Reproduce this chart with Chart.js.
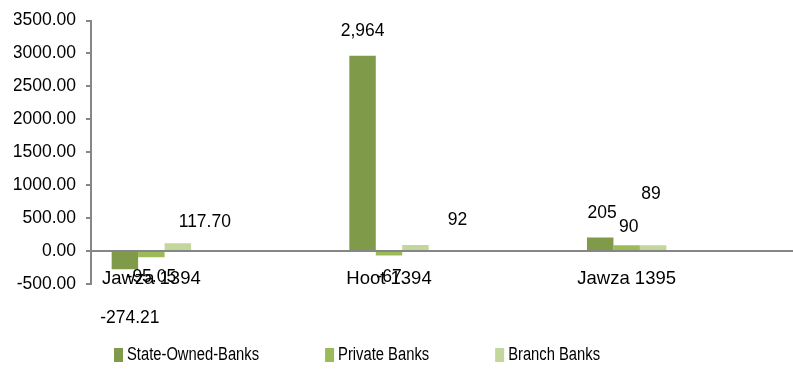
<!DOCTYPE html>
<html>
<head>
<meta charset="utf-8">
<script src="https://cdn.jsdelivr.net/npm/chart.js@4.4.1/dist/chart.umd.min.js"></script>
<style>
  html, body { margin: 0; padding: 0; background: #fff; }
</style>
</head>
<body>
<canvas id="graphic" width="793" height="369"></canvas>
<script>
const categories = ["Jawza 1394", "Hoot 1394", "Jawza 1395"];
const stateOwned = [-274.21, 2964, 205];
const privateBanks = [-95.05, -67, 90];
const branchBanks = [117.7, 92, 89];
const stateLabels = ["-274.21", "2,964", "205"];
const privateLabels = ["-95.05", "-67", "90"];
const branchLabels = ["117.70", "92", "89"];
const yTicks = [-500, 0, 500, 1000, 1500, 2000, 2500, 3000, 3500];

// where each value label sits, relative to the end of its bar (Excel had them dragged around)
const labelOffsets = [
  [[5, 49], [0, -25], [2, -24]],
  [[0, 20], [0, 22], [2, -18]],
  [[27, -21], [42, -25], [-2, -51]],
];

const axisGrey = "#868686";
const mainFont = "'Liberation Sans', Arial, sans-serif";

const toPoints = (values) => values.map((v, i) => ({ x: i, y: v }));

const valueLabels = {
  id: "valueLabels",
  afterDatasetsDraw(chart) {
    const ctx = chart.ctx;
    ctx.save();
    ctx.font = `17.5px ${mainFont}`;
    ctx.fillStyle = "#000";
    ctx.textAlign = "center";
    ctx.textBaseline = "middle";
    chart.data.datasets.forEach((ds, d) => {
      chart.getDatasetMeta(d).data.forEach((bar, i) => {
        const [dx, dy] = labelOffsets[d][i];
        ctx.fillText(ds.valueText[i], bar.x + dx, bar.y + dy);
      });
    });
    ctx.restore();
  },
};

// legend text in the original is a narrow face, so squeeze it a bit
const bottomLegend = {
  id: "bottomLegend",
  afterDraw(chart) {
    const ctx = chart.ctx;
    const squeeze = 0.82;
    ctx.save();
    ctx.font = `18px ${mainFont}`;
    ctx.textBaseline = "middle";
    let x = 114;
    const y = 355;
    chart.data.datasets.forEach((ds) => {
      ctx.fillStyle = ds.backgroundColor;
      ctx.fillRect(x, y - 7, 9, 14);
      ctx.fillStyle = "#000";
      ctx.save();
      ctx.translate(x + 13, y);
      ctx.scale(squeeze, 1);
      ctx.fillText(ds.label, 0, 0);
      ctx.restore();
      x += 13 + ctx.measureText(ds.label).width * squeeze + 66;
    });
    ctx.restore();
  },
};

new Chart(document.getElementById("graphic"), {
  type: "bar",
  data: {
    datasets: [
      { label: "State-Owned-Banks", data: toPoints(stateOwned), valueText: stateLabels, backgroundColor: "#7f9a48" },
      { label: "Private Banks", data: toPoints(privateBanks), valueText: privateLabels, backgroundColor: "#9bbb59" },
      { label: "Branch Banks", data: toPoints(branchBanks), valueText: branchLabels, backgroundColor: "#c3d69b" },
    ],
  },
  options: {
    responsive: false,
    animation: false,
    categoryPercentage: 0.334,
    barPercentage: 1,
    layout: { padding: { left: 14, top: 17, right: 0, bottom: 85 } },
    plugins: {
      legend: { display: false },
      tooltip: { enabled: false },
    },
    scales: {
      x: {
        type: "linear",
        position: { y: 0 },
        offset: false,
        min: -0.254,
        max: 2.7,
        grid: { display: false, drawTicks: false },
        border: { display: false },
        afterBuildTicks: (scale) => {
          scale.ticks = categories.map((c, i) => ({ value: i }));
        },
        ticks: {
          callback: (v) => categories[v],
          padding: 17,
          maxRotation: 0,
          autoSkip: false,
          color: "#000",
          font: { family: mainFont, size: 18.5 },
        },
      },
      y: {
        min: -500,
        max: 3500,
        afterFit: (scale) => {
          scale.width = 77;
        },
        afterBuildTicks: (scale) => {
          scale.ticks = yTicks.map((v) => ({ value: v }));
        },
        ticks: {
          callback: (v) => v.toFixed(2),
          padding: 10,
          color: "#000",
          font: { family: mainFont, size: 17.5 },
        },
        grid: {
          color: (c) => (c.tick && c.tick.value === 0 ? axisGrey : "rgba(0,0,0,0)"),
          tickColor: axisGrey,
          tickLength: 5,
          lineWidth: 2,
        },
        border: { color: axisGrey, width: 2 },
      },
    },
  },
  plugins: [valueLabels, bottomLegend],
});
</script>
</body>
</html>
